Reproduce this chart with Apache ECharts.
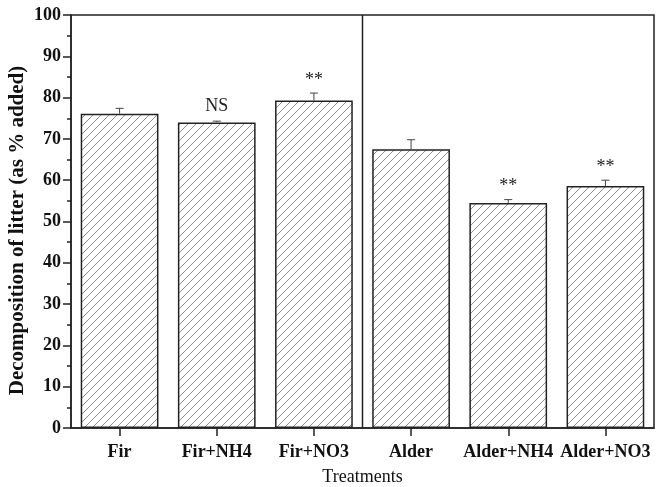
<!DOCTYPE html>
<html>
<head>
<meta charset="utf-8">
<script src="https://cdn.jsdelivr.net/npm/echarts@6/dist/echarts.min.js"></script>
<style>
  html, body { margin: 0; padding: 0; background: #fff; }
  #chart { width: 662px; height: 487px; }
</style>
</head>
<body>
<div id="chart"></div>
<script>
// Litter decomposition by treatment
const categories = ['Fir', 'Fir+NH4', 'Fir+NO3', 'Alder', 'Alder+NH4', 'Alder+NO3'];
const decomposition = [76.1, 74.0, 79.3, 67.5, 54.5, 58.6];
const errors = [1.3, 0.3, 1.8, 2.3, 0.8, 1.4];
const significance = ['', 'NS', '**', '', '**', '**'];
const yTicks = [0, 10, 20, 30, 40, 50, 60, 70, 80, 90, 100];

const FONT = '"Liberation Serif", "Times New Roman", serif';

// Diagonal hatch fill for the bars
function hatchPattern() {
  const s = 8;
  const c = document.createElement('canvas');
  c.width = s; c.height = s;
  const ctx = c.getContext('2d');
  ctx.fillStyle = '#ffffff';
  ctx.fillRect(0, 0, s, s);
  ctx.strokeStyle = '#8f8f8f';
  ctx.lineWidth = 1;
  ctx.beginPath();
  ctx.moveTo(0, s); ctx.lineTo(s, 0);
  ctx.moveTo(-1, 1); ctx.lineTo(1, -1);
  ctx.moveTo(s - 1, s + 1); ctx.lineTo(s + 1, s - 1);
  ctx.stroke();
  return c;
}

const chart = echarts.init(document.getElementById('chart'), null, { renderer: 'canvas' });

const option = {
  animation: false,
  backgroundColor: '#ffffff',
  grid: {
    left: 71, right: 8, top: 15, bottom: 59,
    outerBoundsMode: 'none',
    containLabel: false,
    show: true, borderColor: '#222', borderWidth: 1.5, backgroundColor: 'transparent'
  },
  xAxis: {
    type: 'category',
    data: categories,
    name: 'Treatments',
    nameLocation: 'middle',
    nameGap: 40,
    nameMoveOverlap: false,
    nameTextStyle: { fontFamily: FONT, fontSize: 18, color: '#111' },
    axisLine: { show: true, lineStyle: { color: '#222', width: 1.5 } },
    axisTick: { show: true, alignWithLabel: true, length: 8, lineStyle: { color: '#222', width: 1.5 } },
    axisLabel: {
      fontFamily: FONT, fontSize: 18, fontWeight: 'bold', color: '#111', margin: 15, interval: 0
    },
    splitLine: { show: false }
  },
  yAxis: {
    type: 'value',
    min: yTicks[0],
    max: yTicks[yTicks.length - 1],
    interval: 10,
    name: 'Decomposition of litter (as % added)',
    nameLocation: 'middle',
    nameGap: 43,
    nameMoveOverlap: false,
    nameTextStyle: {
      fontFamily: FONT, fontSize: 21, fontWeight: 'bold', color: '#111',
      padding: [0, 18, 0, 0]
    },
    axisLine: { show: true, lineStyle: { color: '#222', width: 1.5 } },
    axisTick: { show: true, length: 8, lineStyle: { color: '#222', width: 1.5 } },
    minorTick: { show: true, splitNumber: 2, length: 4, lineStyle: { color: '#222', width: 1.5 } },
    axisLabel: { fontFamily: FONT, fontSize: 18, fontWeight: 'bold', color: '#111', margin: 10 },
    splitLine: { show: false }
  },
  series: [
    {
      type: 'bar',
      data: decomposition,
      barWidth: '80%',
      itemStyle: {
        color: { image: hatchPattern(), repeat: 'repeat' },
        borderColor: '#222',
        borderWidth: 1.5
      },
      z: 2
    },
    {
      // error bars with significance marks above them
      type: 'custom',
      data: decomposition.map((v, i) => [i, v, errors[i]]),
      renderItem: function (params, api) {
        const i = api.value(0);
        const v = api.value(1);
        const e = api.value(2);
        const base = api.coord([i, v]);
        const top = api.coord([i, v + e]);
        const cap = 4;
        const children = [
          { type: 'line', shape: { x1: base[0], y1: base[1], x2: top[0], y2: top[1] },
            style: { stroke: '#444', lineWidth: 1 } },
          { type: 'line', shape: { x1: top[0] - cap, y1: top[1], x2: top[0] + cap, y2: top[1] },
            style: { stroke: '#444', lineWidth: 1 } }
        ];
        const mark = significance[params.dataIndex];
        if (mark) {
          const isStar = mark === '**';
          children.push({
            type: 'text',
            x: top[0], y: top[1] - (isStar ? 4 : 6),
            style: {
              text: mark, fontFamily: FONT, fontSize: 18,
              fill: '#222', align: 'center', verticalAlign: 'bottom'
            }
          });
        }
        return { type: 'group', children: children };
      },
      z: 3
    },
    {
      // divider between the fir and alder groups
      type: 'custom',
      data: [[2, 3]],
      renderItem: function (params, api) {
        const a = api.coord([api.value(0), yTicks[0]]);
        const b = api.coord([api.value(1), yTicks[yTicks.length - 1]]);
        const x = (a[0] + b[0]) / 2;
        return {
          type: 'line',
          shape: { x1: x, y1: a[1], x2: x, y2: b[1] },
          style: { stroke: '#222', lineWidth: 1.5 }
        };
      },
      z: 4
    }
  ]
};

chart.setOption(option);
</script>
</body>
</html>
